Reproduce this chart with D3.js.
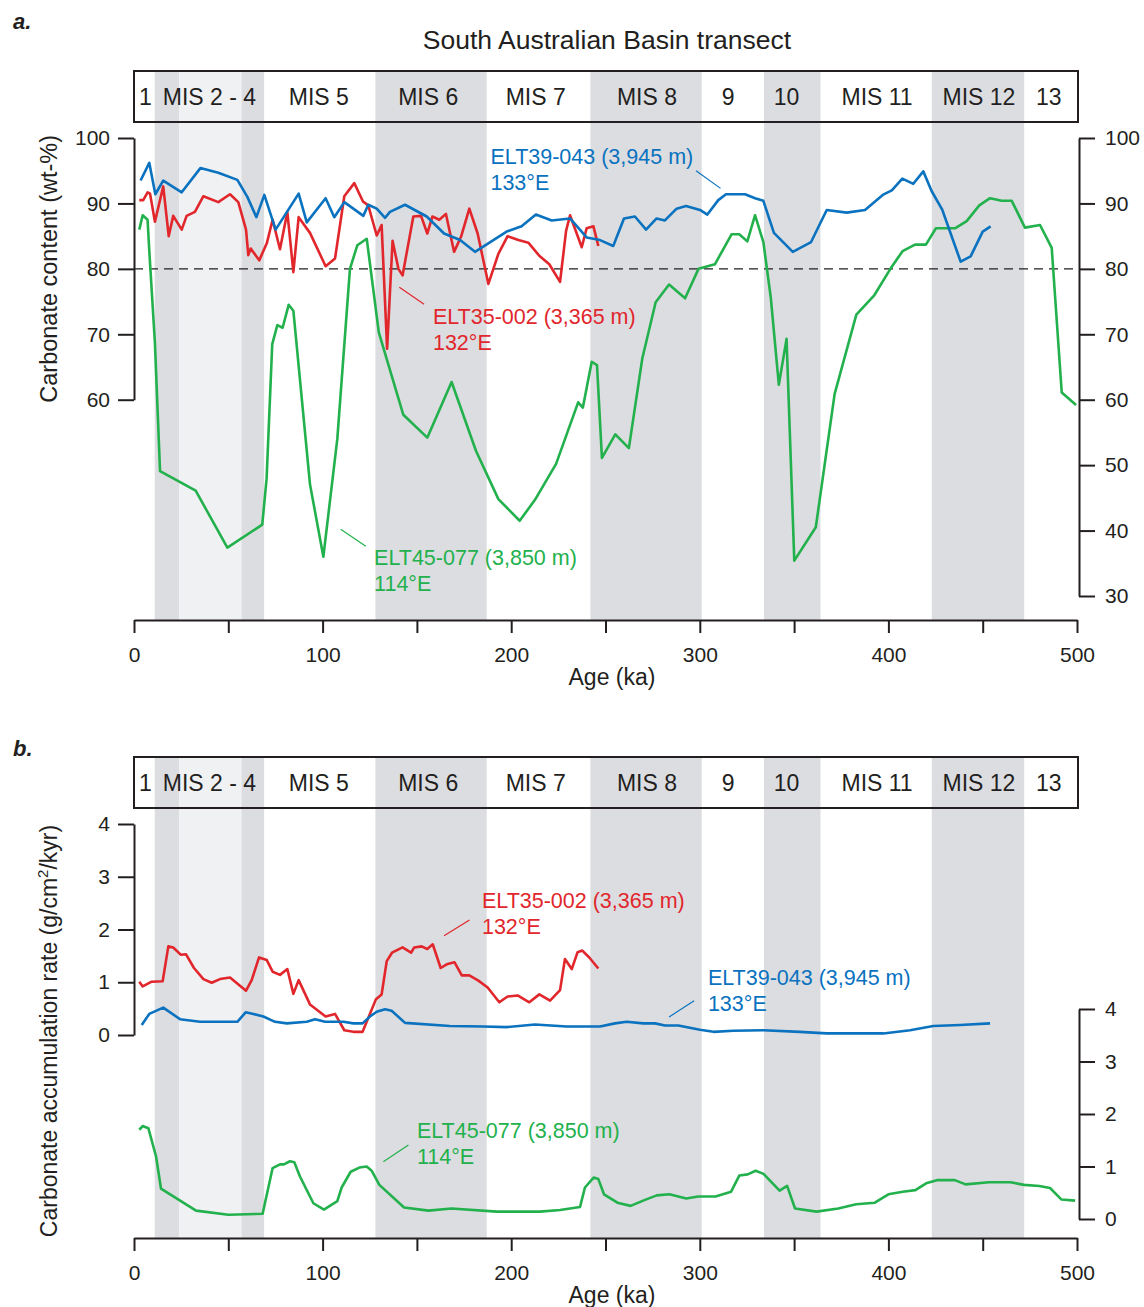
<!DOCTYPE html>
<html>
<head>
<meta charset="utf-8">
<script src="https://cdn.jsdelivr.net/npm/d3@7"></script>
<style>
  body { margin: 0; background: #fff; }
  svg { font-family: "Liberation Sans", Arial, sans-serif; }
  .axis path, .axis line { stroke: #231f20; stroke-width: 2; }
  .axis text { fill: #231f20; font-size: 21px; }
</style>
</head>
<body>
<div id="chart"></div>
<script>
// ---------------------------------------------------------------
// Data (age in ka, value)
const misBands = [
  { from: 11, to: 24, tone: "dark" },
  { from: 24, to: 57, tone: "light" },
  { from: 57, to: 69, tone: "dark" },
  { from: 128, to: 187, tone: "dark" },
  { from: 242, to: 301, tone: "dark" },
  { from: 334, to: 364, tone: "dark" },
  { from: 423, to: 472, tone: "dark" },
];
const misLabels = ["1", "MIS 2 - 4", "MIS 5", "MIS 6", "MIS 7", "MIS 8", "9", "10", "MIS 11", "MIS 12", "13"];
const misLabelAges = [6, 40, 98, 156, 213, 272, 315, 346, 394, 448, 485];

const ageTicks = [0, 50, 100, 150, 200, 250, 300, 350, 400, 450, 500];
const ageTickLabels = [0, 100, 200, 300, 400, 500];

// panel a: carbonate content (wt-%)
const blueContent = [
  [3.5, 93.5], [8.1, 96.2], [11.3, 91.4], [15.5, 93.5], [25.3, 91.7], [35.2, 95.4],
  [44.7, 94.7], [54.8, 93.6], [60.1, 91.0], [64.9, 87.9], [69.1, 91.3], [75.1, 86.0],
  [87.3, 91.5], [91.6, 87.1], [101.6, 90.8], [106.2, 87.9], [111.5, 90.2], [121.6, 88.1],
  [124.2, 89.8], [128.7, 89.2], [133.1, 87.8], [135.7, 88.7], [143.7, 89.8], [155.2, 88.0],
  [164.4, 85.4], [172.9, 84.4], [180.8, 82.6], [197.6, 85.7], [205.5, 86.5], [213.1, 88.3],
  [221.5, 87.4], [231.2, 87.7], [240.0, 84.8], [247.1, 84.4], [254.1, 83.5], [259.8, 87.7],
  [265.6, 88.0], [271.5, 86.0], [277.1, 87.7], [281.5, 87.4], [287.7, 89.2], [292.7, 89.6],
  [300.1, 89.0], [304.0, 88.3], [309.8, 90.5], [313.9, 91.4], [324.0, 91.4], [329.3, 90.8],
  [333.7, 90.4], [339.3, 85.5], [349.3, 82.6], [359.0, 84.1], [367.3, 89.0], [377.9, 88.6],
  [387.6, 89.0], [397.0, 91.3], [401.8, 92.0], [407.4, 93.8], [413.2, 93.0], [418.5, 94.9],
  [422.9, 91.9], [428.6, 89.0], [438.3, 81.1], [443.6, 81.9], [450.0, 85.7], [454.2, 86.5],
];
const redContent = [
  [2.8, 90.5], [4.9, 90.5], [7.2, 91.7], [8.5, 91.5], [11.1, 87.2], [15.5, 92.6],
  [18.4, 85.0], [20.8, 88.1], [25.3, 86.0], [27.9, 88.1], [32.3, 88.7], [36.8, 91.1],
  [44.7, 90.2], [50.9, 91.4], [55.3, 90.2], [59.4, 86.0], [60.6, 82.1], [61.9, 83.1],
  [66.4, 81.3], [70.4, 83.9], [73.5, 87.5], [77.4, 83.0], [81.3, 88.7], [84.5, 79.5],
  [87.3, 87.9], [93.3, 85.5], [101.6, 80.4], [106.6, 81.6], [111.5, 91.1], [116.8, 93.1],
  [121.4, 90.3], [124.2, 89.7], [128.7, 85.1], [131.3, 86.7], [134.2, 67.8], [137.1, 84.3],
  [140.2, 80.0], [142.4, 79.0], [148.1, 88.0], [152.2, 88.1], [155.5, 85.4], [158.2, 88.0],
  [161.9, 87.5], [165.4, 88.4], [169.7, 82.6], [173.4, 84.9], [177.8, 89.2], [182.2, 85.4],
  [187.9, 77.7], [193.2, 82.3], [198.1, 85.0], [203.8, 84.4], [209.1, 84.0], [214.9, 82.0],
  [220.2, 80.7], [225.9, 78.0], [229.1, 85.8], [231.2, 88.2], [237.4, 83.3], [240.0, 86.2],
  [243.6, 86.5], [246.2, 83.5],
];
const greenContent = [
  [2.8, 86.0], [4.6, 88.2], [7.2, 87.5], [8.1, 82.8], [11.1, 68.6], [13.8, 49.1],
  [32.7, 46.1], [49.5, 37.4], [68.0, 40.9], [70.3, 47.9], [73.3, 68.5], [76.0, 71.4],
  [78.8, 71.0], [82.0, 74.5], [84.5, 73.6], [93.3, 47.1], [100.4, 36.0], [107.8, 54.0],
  [114.5, 80.0], [118.4, 83.6], [123.4, 84.6], [129.8, 70.3], [142.8, 57.7], [155.5, 54.2],
  [168.4, 62.7], [181.3, 52.2], [193.2, 44.8], [204.5, 41.5], [212.6, 44.7], [223.8, 50.2],
  [235.5, 59.6], [238.0, 58.8], [242.7, 65.8], [245.5, 65.3], [248.1, 51.1], [255.2, 54.7],
  [262.4, 52.6], [269.5, 66.3], [276.6, 74.9], [283.7, 77.6], [292.2, 75.5], [299.3, 80.0],
  [308.0, 80.7], [316.9, 85.3], [320.9, 85.3], [325.2, 84.2], [329.3, 88.2], [333.7, 84.1],
  [337.6, 75.7], [341.9, 62.3], [346.0, 69.3], [350.1, 35.4], [361.5, 40.5], [371.5, 60.9],
  [383.0, 73.0], [392.6, 76.0], [401.7, 80.3], [407.5, 82.7], [414.1, 83.7], [419.9, 83.7],
  [425.2, 86.2], [435.3, 86.2], [441.5, 87.3], [448.2, 89.7], [453.9, 90.8], [460.1, 90.4],
  [465.4, 90.4], [472.4, 86.3], [480.4, 86.7], [486.6, 83.2], [491.9, 61.1], [499.5, 59.2],
];

// panel b: carbonate accumulation rate (g/cm2/kyr)
const redRate = [
  [2.8, 1.01], [4.6, 0.92], [9.4, 1.01], [15.2, 1.02], [18.2, 1.68], [20.8, 1.66],
  [24.9, 1.52], [27.6, 1.53], [31.8, 1.27], [36.8, 1.06], [41.2, 0.99], [45.6, 1.06],
  [50.9, 1.09], [59.4, 0.84], [62.4, 1.04], [66.3, 1.47], [70.4, 1.42], [73.5, 1.20],
  [77.4, 1.14], [81.3, 1.25], [84.5, 0.78], [87.3, 1.04], [93.3, 0.58], [101.6, 0.35],
  [106.6, 0.40], [111.5, 0.09], [116.3, 0.06], [121.2, 0.06], [128.3, 0.68], [131.3, 0.77],
  [134.0, 1.40], [136.8, 1.56], [142.4, 1.66], [146.9, 1.56], [148.6, 1.66], [152.5, 1.68],
  [155.5, 1.63], [158.4, 1.72], [162.6, 1.27], [165.8, 1.34], [169.9, 1.38], [173.8, 1.13],
  [177.8, 1.13], [182.6, 1.03], [187.5, 0.90], [193.7, 0.62], [198.1, 0.73], [203.4, 0.75],
  [209.6, 0.62], [214.9, 0.77], [220.6, 0.65], [225.9, 0.85], [228.5, 1.44], [232.1, 1.25],
  [235.2, 1.57], [237.7, 1.60], [241.4, 1.47], [246.2, 1.26],
];
const blueRate = [
  [4.1, 0.19], [8.1, 0.40], [15.5, 0.52], [24.4, 0.30], [35.0, 0.25], [54.8, 0.25],
  [59.2, 0.43], [63.3, 0.40], [68.6, 0.35], [74.8, 0.25], [81.0, 0.22], [91.6, 0.25],
  [96.0, 0.30], [101.3, 0.25], [111.0, 0.25], [116.3, 0.22], [121.2, 0.22], [125.1, 0.35],
  [128.7, 0.44], [133.1, 0.49], [136.6, 0.46], [143.7, 0.23], [167.5, 0.17], [185.2, 0.16],
  [197.5, 0.15], [212.6, 0.20], [229.4, 0.16], [247.1, 0.16], [255.0, 0.22], [261.2, 0.25],
  [270.0, 0.22], [276.3, 0.22], [281.5, 0.18], [288.6, 0.18], [300.1, 0.10], [307.2, 0.06],
  [317.8, 0.08], [333.7, 0.09], [353.1, 0.06], [367.3, 0.03], [397.3, 0.03], [411.5, 0.09],
  [423.8, 0.17], [438.0, 0.19], [453.9, 0.22],
];
const greenRate = [
  [2.8, 1.70], [4.6, 1.77], [7.6, 1.73], [11.7, 1.19], [14.3, 0.58], [32.9, 0.16],
  [50.0, 0.08], [68.2, 0.10], [73.5, 0.97], [77.4, 1.04], [79.5, 1.04], [82.7, 1.10],
  [85.0, 1.08], [88.0, 0.81], [95.1, 0.30], [100.7, 0.18], [107.8, 0.34], [110.1, 0.60],
  [114.9, 0.90], [119.5, 0.98], [123.4, 1.00], [126.0, 0.92], [130.1, 0.65], [143.2, 0.22],
  [156.1, 0.16], [168.4, 0.20], [192.3, 0.14], [215.3, 0.14], [225.9, 0.17], [236.5, 0.23],
  [239.1, 0.60], [243.7, 0.79], [246.2, 0.76], [249.2, 0.47], [256.3, 0.31], [263.3, 0.25],
  [270.6, 0.36], [277.2, 0.45], [283.9, 0.47], [292.8, 0.39], [299.1, 0.43], [308.3, 0.43],
  [316.6, 0.52], [321.0, 0.83], [325.4, 0.85], [329.6, 0.92], [333.8, 0.86], [342.3, 0.54],
  [346.3, 0.63], [350.5, 0.20], [361.9, 0.14], [373.4, 0.20], [382.9, 0.28], [392.8, 0.31],
  [400.0, 0.47], [407.6, 0.52], [414.3, 0.55], [420.0, 0.68], [425.7, 0.74], [435.2, 0.74],
  [440.9, 0.66], [453.3, 0.70], [464.7, 0.70], [472.0, 0.65], [480.0, 0.63], [485.7, 0.59],
  [491.8, 0.37], [499.0, 0.35],
];

// ---------------------------------------------------------------
const colors = { blue: "#0a72bf", red: "#e1262c", green: "#22b14c", ink: "#231f20" };

const svg = d3.select("#chart").append("svg")
  .attr("width", 1144)
  .attr("height", 1307);

const x = d3.scaleLinear().domain([0, 500]).range([134, 1077]);

// panel geometry
const panels = [
  { key: "a", boxTop: 71, boxBottom: 122, axisY: 620 },
  { key: "b", boxTop: 757, boxBottom: 808, axisY: 1238 },
];

// scales
const yContent = d3.scaleLinear().domain([30, 100]).range([596, 138]);
const yContentLeft = d3.scaleLinear().domain([60, 100]).range([yContent(60), yContent(100)]);
const yRateLeft = d3.scaleLinear().domain([0, 4]).range([1035, 824]);
const yRateRight = d3.scaleLinear().domain([0, 4]).range([1219, 1009]);

//-----------------------------------------------------------------
// bands + header boxes
panels.forEach((p) => {
  svg.append("g")
    .selectAll("rect")
    .data(misBands)
    .join("rect")
    .attr("x", (d) => x(d.from))
    .attr("width", (d) => x(d.to) - x(d.from))
    .attr("y", p.boxTop)
    .attr("height", p.axisY - p.boxTop)
    .attr("fill", (d) => (d.tone === "dark" ? "#dcdde0" : "#f0f1f3"));

  svg.append("rect")
    .attr("x", x(0))
    .attr("y", p.boxTop)
    .attr("width", x(500) - x(0) + 1)
    .attr("height", p.boxBottom - p.boxTop)
    .attr("fill", "none")
    .attr("stroke", colors.ink)
    .attr("stroke-width", 2);

  svg.append("g")
    .selectAll("text")
    .data(misLabels)
    .join("text")
    .attr("x", (d, i) => x(misLabelAges[i]))
    .attr("y", p.boxBottom - 17)
    .attr("text-anchor", "middle")
    .attr("font-size", 23)
    .attr("fill", colors.ink)
    .text((d) => d);

  // x axis
  const xAxis = svg.append("g")
    .attr("class", "axis")
    .attr("transform", `translate(0,${p.axisY})`)
    .call(d3.axisBottom(x).tickValues(ageTicks).tickSize(13).tickSizeOuter(0)
      .tickFormat((d) => (ageTickLabels.includes(d) ? d : "")));
  xAxis.select(".domain").attr("stroke-width", 2.5);
  xAxis.selectAll(".tick line").attr("stroke-width", 1.5);
  xAxis.selectAll(".tick text").attr("dy", 0).attr("y", 42);

  svg.append("text")
    .attr("x", 612)
    .attr("y", p.axisY + 65)
    .attr("text-anchor", "middle")
    .attr("font-size", 23)
    .attr("fill", colors.ink)
    .text("Age (ka)");
});

//-----------------------------------------------------------------
// panel a axes
const leftA = svg.append("g")
  .attr("class", "axis")
  .attr("transform", `translate(${x(0)},0)`)
  .call(d3.axisLeft(yContentLeft).tickValues([60, 70, 80, 90, 100]).tickSize(16).tickSizeOuter(0).tickPadding(8));
leftA.selectAll(".tick line").attr("stroke-width", 1.5);

const rightA = svg.append("g")
  .attr("class", "axis")
  .attr("transform", `translate(1079,0)`)
  .call(d3.axisRight(yContent).tickValues([30, 40, 50, 60, 70, 80, 90, 100]).tickSize(16).tickSizeOuter(0).tickPadding(10));
rightA.selectAll(".tick line").attr("stroke-width", 1.5);

svg.append("line")
  .attr("x1", x(0)).attr("x2", x(500))
  .attr("y1", yContent(80)).attr("y2", yContent(80))
  .attr("stroke", colors.ink)
  .attr("stroke-width", 1.2)
  .attr("stroke-dasharray", "9,6");

// panel b axes
const leftB = svg.append("g")
  .attr("class", "axis")
  .attr("transform", `translate(${x(0)},0)`)
  .call(d3.axisLeft(yRateLeft).ticks(4).tickSize(16).tickSizeOuter(0).tickPadding(8));
leftB.selectAll(".tick line").attr("stroke-width", 1.5);

const rightB = svg.append("g")
  .attr("class", "axis")
  .attr("transform", `translate(1079,0)`)
  .call(d3.axisRight(yRateRight).ticks(4).tickSize(16).tickSizeOuter(0).tickPadding(10));
rightB.selectAll(".tick line").attr("stroke-width", 1.5);

//-----------------------------------------------------------------
// series
const series = [
  { data: greenContent, y: yContent, color: colors.green },
  { data: redContent, y: yContent, color: colors.red },
  { data: blueContent, y: yContent, color: colors.blue },
  { data: greenRate, y: yRateRight, color: colors.green },
  { data: redRate, y: yRateLeft, color: colors.red },
  { data: blueRate, y: yRateLeft, color: colors.blue },
];

series.forEach((s) => {
  const line = d3.line()
    .x((d) => x(d[0]))
    .y((d) => s.y(d[1]));
  svg.append("path")
    .datum(s.data)
    .attr("d", line)
    .attr("fill", "none")
    .attr("stroke", s.color)
    .attr("stroke-width", 2.6)
    .attr("stroke-linejoin", "round");
});

//-----------------------------------------------------------------
// annotations: label anchor (age, value) and leader line (age, value)
const annotations = [
  { lines: ["ELT39-043 (3,945 m)", "133°E"], color: colors.blue, y: yContent, at: [189, 96.1], lead: [[298, 95.0], [311, 92.3]] },
  { lines: ["ELT35-002 (3,365 m)", "132°E"], color: colors.red, y: yContent, at: [158.5, 71.6], lead: [[140.7, 77.2], [153.8, 74.6]] },
  { lines: ["ELT45-077 (3,850 m)", "114°E"], color: colors.green, y: yContent, at: [127.3, 34.8], lead: [[109.6, 40.2], [122.9, 37.6]] },
  { lines: ["ELT35-002 (3,365 m)", "132°E"], color: colors.red, y: yRateLeft, at: [184.5, 2.4], lead: [[164.4, 1.88], [177.9, 2.18]] },
  { lines: ["ELT39-043 (3,945 m)", "133°E"], color: colors.blue, y: yRateLeft, at: [304.3, 0.95], lead: [[283.7, 0.34], [297, 0.65]] },
  { lines: ["ELT45-077 (3,850 m)", "114°E"], color: colors.green, y: yRateRight, at: [150, 1.55], lead: [[132.2, 1.09], [145.5, 1.41]] },
];

annotations.forEach((a) => {
  const t = svg.append("text")
    .attr("x", x(a.at[0]))
    .attr("y", a.y(a.at[1]))
    .attr("font-size", 21.5)
    .attr("fill", a.color);
  a.lines.forEach((l, i) => {
    t.append("tspan")
      .attr("x", x(a.at[0]))
      .attr("dy", i === 0 ? 0 : 26)
      .text(l);
  });
  svg.append("line")
    .attr("x1", x(a.lead[0][0])).attr("y1", a.y(a.lead[0][1]))
    .attr("x2", x(a.lead[1][0])).attr("y2", a.y(a.lead[1][1]))
    .attr("stroke", a.color)
    .attr("stroke-width", 1.2);
});

//-----------------------------------------------------------------
// titles
svg.append("text")
  .attr("x", 607).attr("y", 49)
  .attr("text-anchor", "middle")
  .attr("font-size", 26.5)
  .attr("fill", colors.ink)
  .text("South Australian Basin transect");

svg.append("text")
  .attr("x", 13).attr("y", 29)
  .attr("font-size", 22).attr("font-weight", "bold").attr("font-style", "italic")
  .attr("fill", colors.ink)
  .text("a.");

svg.append("text")
  .attr("x", 13).attr("y", 756)
  .attr("font-size", 22).attr("font-weight", "bold").attr("font-style", "italic")
  .attr("fill", colors.ink)
  .text("b.");

svg.append("text")
  .attr("transform", `translate(57,${yContent(80)}) rotate(-90)`)
  .attr("text-anchor", "middle")
  .attr("font-size", 23.5)
  .attr("fill", colors.ink)
  .text("Carbonate content (wt-%)");

const rateLabel = svg.append("text")
  .attr("transform", `translate(57,1031) rotate(-90)`)
  .attr("text-anchor", "middle")
  .attr("font-size", 23)
  .attr("fill", colors.ink);
rateLabel.append("tspan").text("Carbonate accumulation rate (g/cm");
rateLabel.append("tspan").attr("font-size", 15).attr("dy", -9).text("2");
rateLabel.append("tspan").attr("dy", 9).text("/kyr)");
</script>
</body>
</html>
